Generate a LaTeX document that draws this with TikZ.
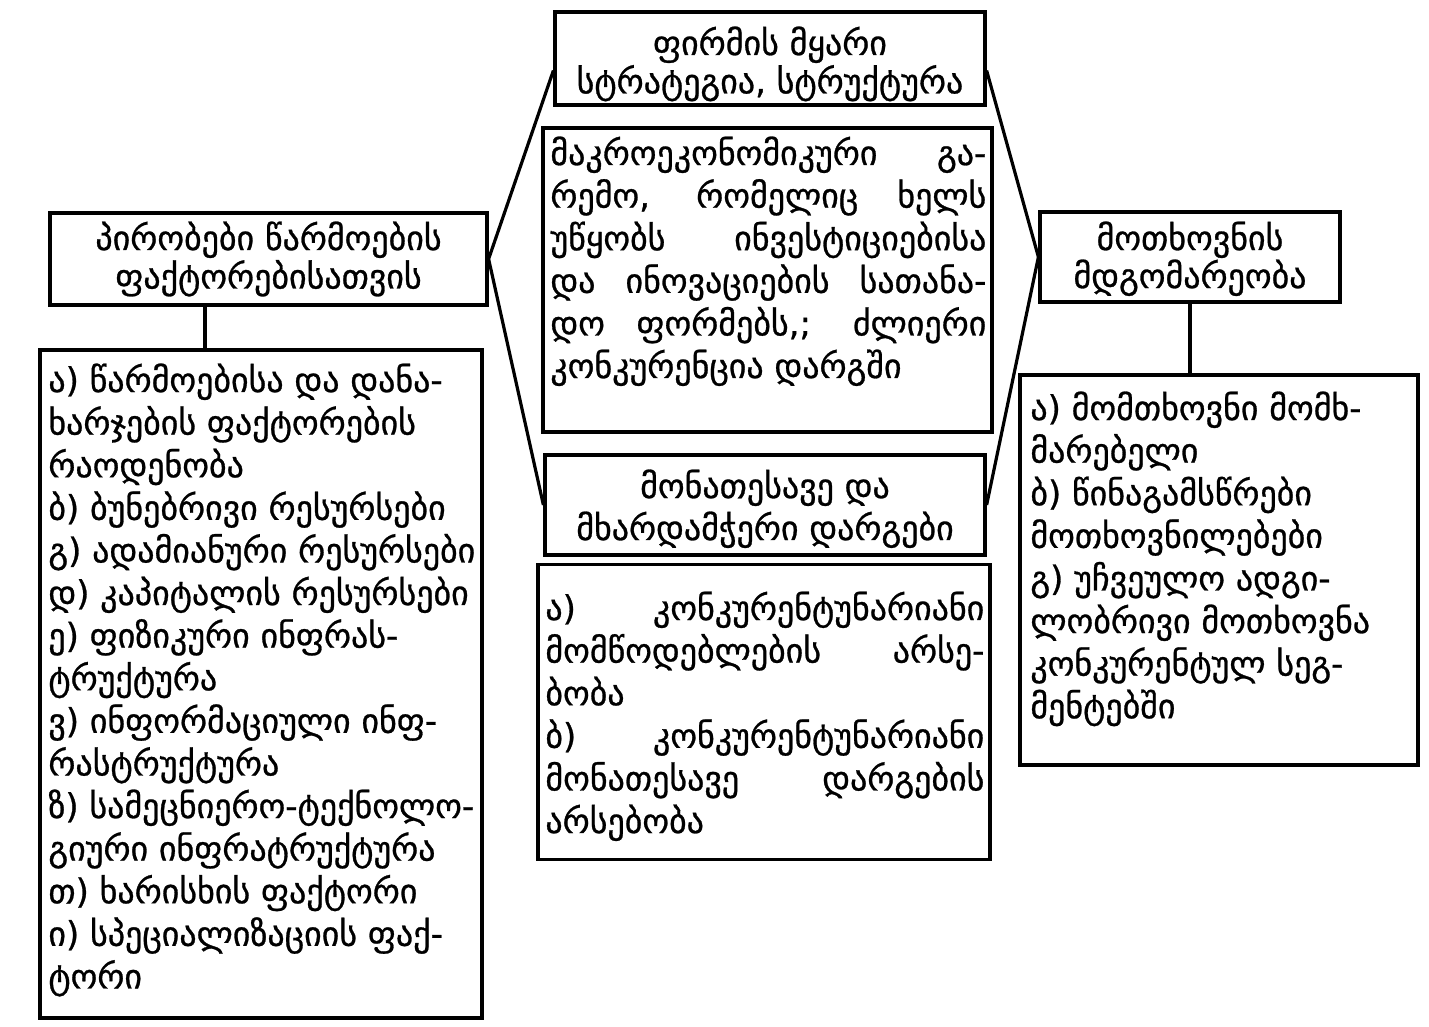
\documentclass[tikz,border=0pt]{standalone}
\usepackage{fontspec}
\setmainfont{DejaVu Sans}[FakeBold=0.8]
\newcommand\gfont{\fontsize{17}{21.3}\selectfont}
\newcommand\jl[1]{\makebox[\linewidth][s]{#1}\\}
\tikzset{
  box/.style={draw, line width=1.6pt, inner sep=0pt},
  txt/.style={inner sep=0pt, anchor=base west, font=\gfont},
  ttl/.style={inner sep=0pt, anchor=base},
  link/.style={line width=1.6pt}
}
\begin{document}
\begin{tikzpicture}[x=0.5pt,y=-0.5pt]
\useasboundingbox[fill=white] (0,0) rectangle (1429,1027);
% boxes
\node[box, minimum width=215pt, minimum height=46.5pt] (top) at (770,58.5) {};
\node[box, minimum width=224.5pt, minimum height=152pt] (macro) at (767.5,280) {};
\node[box, minimum width=220pt, minimum height=50pt] (lowT) at (765,505) {};
\node[box, minimum width=226pt, minimum height=147.5pt] (cList) at (764,712) {};
\node[box, minimum width=218.5pt, minimum height=46pt] (leftT) at (268.5,259) {};
\node[box, minimum width=221pt, minimum height=334pt] (lList) at (261,684) {};
\node[box, minimum width=150pt, minimum height=45pt] (rightT) at (1190,257) {};
\node[box, minimum width=199pt, minimum height=195pt] (rList) at (1219,570) {};
% titles
\node[ttl] (topTx) at (770,55) {\parbox[t]{212pt}{\centering\fontsize{17}{17.5}\selectfont ფირმის მყარი\\სტრატეგია, სტრუქტურა}};
\node[ttl] (lowTx) at (765,498) {\parbox[t]{216pt}{\centering\fontsize{17}{21}\selectfont მონათესავე და\\მხარდამჭერი დარგები}};
\node[ttl] (leftTx) at (268.5,250) {\parbox[t]{216pt}{\centering\fontsize{17}{17.5}\selectfont პირობები წარმოების\\ფაქტორებისათვის}};
\node[ttl] (rightTx) at (1190,250) {\parbox[t]{148pt}{\centering\fontsize{17}{19}\selectfont მოთხოვნის\\მდგომარეობა}};
% macro text
\node[txt] (macroTx) at (550,165) {\parbox[t]{218pt}{\gfont
\jl{მაკროეკონომიკური გა-}
\jl{რემო, რომელიც ხელს}
\jl{უწყობს ინვესტიციებისა}
\jl{და ინოვაციების სათანა-}
\jl{დო ფორმებს,; ძლიერი}
კონკურენცია დარგში}};
% center list
\node[txt] (cListTx) at (545,620) {\parbox[t]{219.5pt}{\gfont
\jl{ა) კონკურენტუნარიანი}
\jl{მომწოდებლების არსე-}
ბობა\\
\jl{ბ) კონკურენტუნარიანი}
\jl{მონათესავე დარგების}
არსებობა}};
% left list
\node[txt] (lListTx) at (48,392) {\parbox[t]{215pt}{\gfont\raggedright
ა) წარმოებისა და დანა-\\
ხარჯების ფაქტორების\\
რაოდენობა\\
ბ) ბუნებრივი რესურსები\\
გ) ადამიანური რესურსები\\
დ) კაპიტალის რესურსები\\
ე) ფიზიკური ინფრას-\\
ტრუქტურა\\
ვ) ინფორმაციული ინფ-\\
რასტრუქტურა\\
ზ) სამეცნიერო-ტექნოლო-\\
გიური ინფრატრუქტურა\\
თ) ხარისხის ფაქტორი\\
ი) სპეციალიზაციის ფაქ-\\
ტორი}};
% right list
\node[txt] (rListTx) at (1030,420) {\parbox[t]{192pt}{\gfont\raggedright
ა) მომთხოვნი მომხ-\\
მარებელი\\
ბ) წინაგამსწრები\\
მოთხოვნილებები\\
გ) უჩვეულო ადგი-\\
ლობრივი მოთხოვნა\\
კონკურენტულ სეგ-\\
მენტებში}};
% connectors
\draw[link] (leftT.east) -- ([yshift=-6pt]top.west);
\draw[link] (leftT.east) -- (lowT.west);
\draw[link] (rightT.west) -- ([yshift=-6pt]top.east);
\draw[link] (rightT.west) -- (lowT.east);
\draw[link] (leftT.south -| 205,0) -- (lList.north -| 205,0);
\draw[link] (rightT.south) -- (rList.north -| rightT.south);
\end{tikzpicture}
\end{document}
